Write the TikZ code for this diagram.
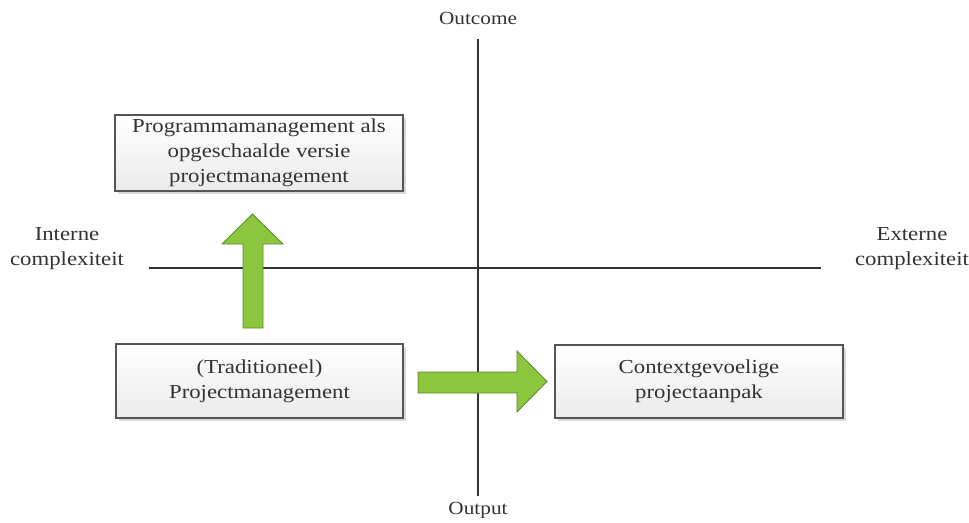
\documentclass[tikz,border=0pt]{standalone}
\usepackage{fontspec}
\setmainfont{Liberation Serif}[FakeStretch=1.15]
\usetikzlibrary{shadows}
\definecolor{boxline}{HTML}{555555}
\definecolor{axisline}{HTML}{333333}
\definecolor{arrowfill}{HTML}{8CC63F}
\definecolor{arrowline}{HTML}{5B8A2C}
\tikzset{
  every node/.style={font=\fontsize{19.8}{25}\selectfont, text=black!80, align=center},
  quadbox/.style={draw=boxline, line width=1.4pt, top color=white, bottom color=black!8,
    drop shadow={shadow xshift=2.5pt, shadow yshift=-2.5pt, opacity=0.25, fill=black!60},
    inner sep=0pt},
  axis/.style={draw=axisline, line width=1.3pt},
  bigarrow/.style={fill=arrowfill, draw=arrowline, line width=0.8pt, line join=miter}
}
\begin{document}
\begin{tikzpicture}[x=1pt,y=-1pt]
  \useasboundingbox (0,0) rectangle (969,522);
  % axes
  \coordinate (vtop) at (478,39);
  \coordinate (vbot) at (478,496);
  \coordinate (hleft) at (149,268);
  \coordinate (hright) at (821,268);
  \draw[axis] (vtop) -- (vbot);
  \draw[axis] (hleft) -- (hright);
  % axis labels
  \node[font=\fontsize{18.5}{25}\selectfont] (outcome) at (478,18) {Outcome};
  \node[font=\fontsize{18.5}{25}\selectfont] (output) at (478,510) {Output};
  \node (intern) at (67,249) {Interne\\complexiteit};
  \node (extern) at (912,249) {Externe\\complexiteit};
  % boxes
  \node[quadbox, minimum width=288pt, minimum height=76pt] (prog) at (259,153) {Programmamanagement als\\opgeschaalde versie\\projectmanagement};
  \node[quadbox, minimum width=287pt, minimum height=74pt] (trad) at (259.5,381) {(Traditioneel)\\Projectmanagement};
  \node[quadbox, minimum width=288pt, minimum height=73pt] (ctx) at (699,381.5) {Contextgevoelige\\projectaanpak};
  % block arrows
  \draw[bigarrow] (243,328) -- (243,244) -- (222,244) -- (252.5,214) -- (283,244) -- (263,244) -- (263,328) -- cycle;
  \draw[bigarrow] (418,372) -- (517,372) -- (517,351) -- (547,381.5) -- (517,412) -- (517,393) -- (418,393) -- cycle;
\end{tikzpicture}
\end{document}
